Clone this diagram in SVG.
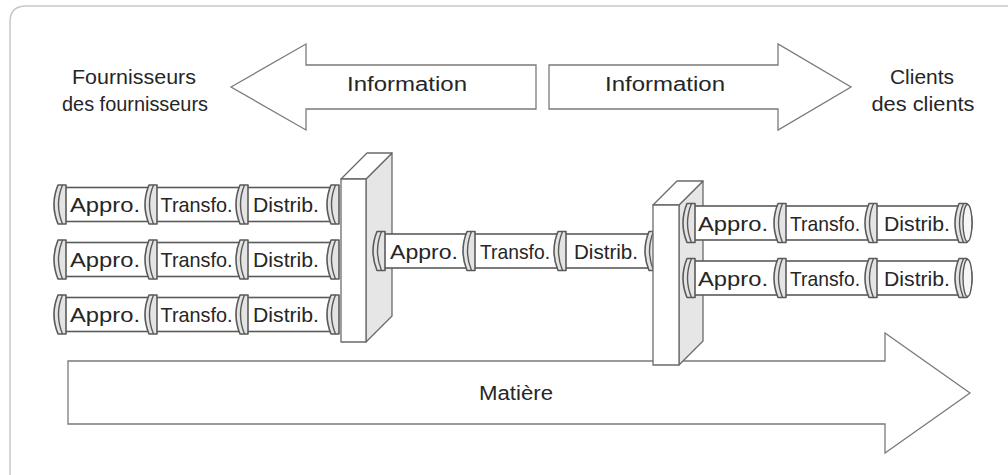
<svg xmlns="http://www.w3.org/2000/svg" width="1008" height="475" viewBox="0 0 1008 475">
  <defs>
    <style>
      .frame { fill: none; stroke: #c8c8c8; stroke-width: 1.5; }
      .arrow { fill: #ffffff; stroke: #7a7a7a; stroke-width: 1.3; stroke-linejoin: miter; }
      .lbl { font-family: "Liberation Sans", Arial, sans-serif; fill: #262626; text-anchor: middle; }
      .big { font-size: 20px; }
      .seg { font-size: 21px; }
      .body { fill: #ffffff; stroke: #5a5a5a; stroke-width: 1.6; }
      .cap { fill: #e4e4e4; stroke: #5a5a5a; stroke-width: 1.6; stroke-linejoin: round; }
      .capline { fill: none; stroke: #5a5a5a; stroke-width: 1.4; }
      .face { fill: #ffffff; stroke: #6a6a6a; stroke-width: 1.3; stroke-linejoin: round; }
      .side { fill: #e6e6e6; stroke: #6a6a6a; stroke-width: 1.3; stroke-linejoin: round; }
    </style>
    <!-- flange ring at a joint: local origin = left edge, vertical centre -->
    <g id="ring">
      <path class="cap" d="M4,-19.5 L12,-19.5 L12,19.5 L4,19.5 Q-4,0 4,-19.5 Z"/>
      <path class="capline" d="M8.5,-19.5 Q0.5,0 8.5,19.5"/>
    </g>
    <!-- closing ring at the open end of a pipe -->
    <g id="endring">
      <path class="cap" d="M4,-19.5 L12,-19.5 Q22,0 12,19.5 L4,19.5 Q-4,0 4,-19.5 Z"/>
      <path class="capline" d="M8.5,-19.5 Q0.5,0 8.5,19.5"/>
      <ellipse cx="12.5" cy="0" rx="4.5" ry="18.5" fill="#f6f6f6" stroke="#5a5a5a" stroke-width="1.4"/>
    </g>
  </defs>

  <!-- outer frame -->
  <path class="frame" d="M10,475 L10,22 Q10,6 26,6 L1008,6"/>

  <g id="connectors">
    <!-- information flows -->
    <path class="arrow" d="M231,87 L306,44 L306,65 L536,65 L536,109 L306,109 L306,130 Z"/>
    <path class="arrow" d="M549,65 L778,65 L778,44 L851,87 L778,130 L778,109 L549,109 Z"/>
    <!-- material flow -->
    <path class="arrow" d="M68,361 L885,361 L885,333 L970,393 L885,453 L885,424 L68,424 Z"/>
  </g>

  <g id="label-info-left"><text class="lbl big" x="407" y="91" textLength="120" lengthAdjust="spacingAndGlyphs">Information</text></g>
  <g id="label-info-right"><text class="lbl big" x="665" y="91" textLength="120" lengthAdjust="spacingAndGlyphs">Information</text></g>
  <g id="label-matiere"><text class="lbl big" x="516" y="400" textLength="74" lengthAdjust="spacingAndGlyphs">Matière</text></g>

  <g id="suppliers">
    <text class="lbl big" x="134" y="84" textLength="124" lengthAdjust="spacingAndGlyphs">Fournisseurs</text>
    <text class="lbl big" x="135" y="111" textLength="146" lengthAdjust="spacingAndGlyphs">des fournisseurs</text>
  </g>
  <g id="customers">
    <text class="lbl big" x="922" y="84" textLength="64" lengthAdjust="spacingAndGlyphs">Clients</text>
    <text class="lbl big" x="923" y="111" textLength="103" lengthAdjust="spacingAndGlyphs">des clients</text>
  </g>

  <!-- upstream pipes (three suppliers) -->
  <g id="pipe-left-1" transform="translate(0,204.5)">
    <rect class="body" x="60" y="-17" width="278" height="34"/>
    <use href="#ring" x="54"/><use href="#ring" x="145"/><use href="#ring" x="236"/><use href="#ring" x="327"/>
    <text class="lbl seg" x="105" y="7.5" textLength="70" lengthAdjust="spacingAndGlyphs">Appro.</text>
    <text class="lbl seg" x="196.5" y="7.5" textLength="72" lengthAdjust="spacingAndGlyphs">Transfo.</text>
    <text class="lbl seg" x="286" y="7.5" textLength="66" lengthAdjust="spacingAndGlyphs">Distrib.</text>
  </g>
  <g id="pipe-left-2" transform="translate(0,259.5)">
    <rect class="body" x="60" y="-17" width="278" height="34"/>
    <use href="#ring" x="54"/><use href="#ring" x="145"/><use href="#ring" x="236"/><use href="#ring" x="327"/>
    <text class="lbl seg" x="105" y="7.5" textLength="70" lengthAdjust="spacingAndGlyphs">Appro.</text>
    <text class="lbl seg" x="196.5" y="7.5" textLength="72" lengthAdjust="spacingAndGlyphs">Transfo.</text>
    <text class="lbl seg" x="286" y="7.5" textLength="66" lengthAdjust="spacingAndGlyphs">Distrib.</text>
  </g>
  <g id="pipe-left-3" transform="translate(0,314.5)">
    <rect class="body" x="60" y="-17" width="278" height="34"/>
    <use href="#ring" x="54"/><use href="#ring" x="145"/><use href="#ring" x="236"/><use href="#ring" x="327"/>
    <text class="lbl seg" x="105" y="7.5" textLength="70" lengthAdjust="spacingAndGlyphs">Appro.</text>
    <text class="lbl seg" x="196.5" y="7.5" textLength="72" lengthAdjust="spacingAndGlyphs">Transfo.</text>
    <text class="lbl seg" x="286" y="7.5" textLength="66" lengthAdjust="spacingAndGlyphs">Distrib.</text>
  </g>

  <!-- first junction wall -->
  <g id="wall-left">
    <path class="side" d="M366,179 L392,153 L392,316 L366,342 Z"/>
    <path class="face" d="M341,179 L367,153 L392,153 L366,179 Z"/>
    <rect class="face" x="341" y="179" width="25" height="163"/>
  </g>

  <!-- central pipe -->
  <g id="pipe-middle" transform="translate(0,251)">
    <rect class="body" x="379" y="-17" width="278" height="34"/>
    <use href="#ring" x="373"/><use href="#ring" x="463"/><use href="#ring" x="554"/><use href="#ring" x="645"/>
    <text class="lbl seg" x="424" y="7.5" textLength="68" lengthAdjust="spacingAndGlyphs">Appro.</text>
    <text class="lbl seg" x="515" y="7.5" textLength="70" lengthAdjust="spacingAndGlyphs">Transfo.</text>
    <text class="lbl seg" x="606" y="7.5" textLength="64" lengthAdjust="spacingAndGlyphs">Distrib.</text>
  </g>

  <!-- second junction wall -->
  <g id="wall-right">
    <path class="side" d="M679,205 L703,181 L703,341 L679,365 Z"/>
    <path class="face" d="M653,205 L677,181 L703,181 L679,205 Z"/>
    <rect class="face" x="653" y="205" width="26" height="160"/>
  </g>

  <!-- downstream pipes (two customers) -->
  <g id="pipe-right-1" transform="translate(0,223)">
    <rect class="body" x="689" y="-17" width="272" height="34"/>
    <use href="#ring" x="683"/><use href="#ring" x="774"/><use href="#ring" x="865"/><use href="#endring" x="955"/>
    <text class="lbl seg" x="733" y="7.5" textLength="70" lengthAdjust="spacingAndGlyphs">Appro.</text>
    <text class="lbl seg" x="825" y="7.5" textLength="70" lengthAdjust="spacingAndGlyphs">Transfo.</text>
    <text class="lbl seg" x="917" y="7.5" textLength="66" lengthAdjust="spacingAndGlyphs">Distrib.</text>
  </g>
  <g id="pipe-right-2" transform="translate(0,278)">
    <rect class="body" x="689" y="-17" width="272" height="34"/>
    <use href="#ring" x="683"/><use href="#ring" x="774"/><use href="#ring" x="865"/><use href="#endring" x="955"/>
    <text class="lbl seg" x="733" y="7.5" textLength="70" lengthAdjust="spacingAndGlyphs">Appro.</text>
    <text class="lbl seg" x="825" y="7.5" textLength="70" lengthAdjust="spacingAndGlyphs">Transfo.</text>
    <text class="lbl seg" x="917" y="7.5" textLength="66" lengthAdjust="spacingAndGlyphs">Distrib.</text>
  </g>
</svg>
